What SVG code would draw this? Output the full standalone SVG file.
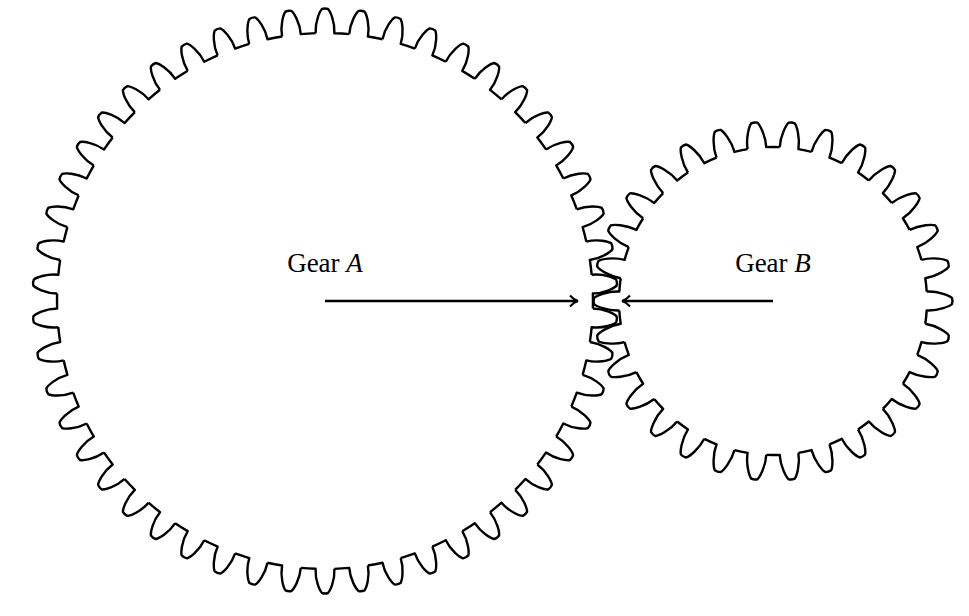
<svg xmlns="http://www.w3.org/2000/svg" width="969" height="616" viewBox="0 0 969 616">
<style>
.g{fill:none;stroke:#000;stroke-width:2.4;stroke-linejoin:round}
.c{stroke:#000;stroke-width:2.4;fill:none}
.t{font-family:"Liberation Serif",serif;font-size:27px;text-anchor:middle;fill:#000}
</style>
<defs>
<path id="ta" d="M -9.4,-267.8 C -10,-280 -5,-290 -3,-292 Q 0,-293 3,-292 C 5,-290 10,-280 9.4,-267.8 A 268 268 0 0 1 24.3,-266.9"/>
<path id="tb" d="M -9.4,-153.7 C -10,-166 -5,-177 -3,-179 Q 0,-180 3,-179 C 5,-177 10,-166 9.4,-153.7 A 154 154 0 0 1 22.76,-152.3"/>
<marker id="ar" markerWidth="14" markerHeight="14" refX="10" refY="7" orient="auto" markerUnits="userSpaceOnUse">
<path d="M 2,1.5 Q 6,6 10,7 Q 6,8 2,12.5" fill="none" stroke="#000" stroke-width="2"/>
</marker>
</defs>
<g id="gearA" class="g" transform="translate(325,301)">
<use href="#ta" transform="rotate(0)"/><use href="#ta" transform="rotate(7.2)"/><use href="#ta" transform="rotate(14.4)"/><use href="#ta" transform="rotate(21.6)"/><use href="#ta" transform="rotate(28.8)"/><use href="#ta" transform="rotate(36)"/><use href="#ta" transform="rotate(43.2)"/><use href="#ta" transform="rotate(50.4)"/><use href="#ta" transform="rotate(57.6)"/><use href="#ta" transform="rotate(64.8)"/><use href="#ta" transform="rotate(72)"/><use href="#ta" transform="rotate(79.2)"/><use href="#ta" transform="rotate(86.4)"/><use href="#ta" transform="rotate(93.6)"/><use href="#ta" transform="rotate(100.8)"/><use href="#ta" transform="rotate(108)"/><use href="#ta" transform="rotate(115.2)"/><use href="#ta" transform="rotate(122.4)"/><use href="#ta" transform="rotate(129.6)"/><use href="#ta" transform="rotate(136.8)"/><use href="#ta" transform="rotate(144)"/><use href="#ta" transform="rotate(151.2)"/><use href="#ta" transform="rotate(158.4)"/><use href="#ta" transform="rotate(165.6)"/><use href="#ta" transform="rotate(172.8)"/><use href="#ta" transform="rotate(180)"/><use href="#ta" transform="rotate(187.2)"/><use href="#ta" transform="rotate(194.4)"/><use href="#ta" transform="rotate(201.6)"/><use href="#ta" transform="rotate(208.8)"/><use href="#ta" transform="rotate(216)"/><use href="#ta" transform="rotate(223.2)"/><use href="#ta" transform="rotate(230.4)"/><use href="#ta" transform="rotate(237.6)"/><use href="#ta" transform="rotate(244.8)"/><use href="#ta" transform="rotate(252)"/><use href="#ta" transform="rotate(259.2)"/><use href="#ta" transform="rotate(266.4)"/><use href="#ta" transform="rotate(273.6)"/><use href="#ta" transform="rotate(280.8)"/><use href="#ta" transform="rotate(288)"/><use href="#ta" transform="rotate(295.2)"/><use href="#ta" transform="rotate(302.4)"/><use href="#ta" transform="rotate(309.6)"/><use href="#ta" transform="rotate(316.8)"/><use href="#ta" transform="rotate(324)"/><use href="#ta" transform="rotate(331.2)"/><use href="#ta" transform="rotate(338.4)"/><use href="#ta" transform="rotate(345.6)"/><use href="#ta" transform="rotate(352.8)"/>
</g>
<g id="gearB" class="g" transform="translate(773,301) rotate(6)">
<use href="#tb" transform="rotate(0)"/><use href="#tb" transform="rotate(12)"/><use href="#tb" transform="rotate(24)"/><use href="#tb" transform="rotate(36)"/><use href="#tb" transform="rotate(48)"/><use href="#tb" transform="rotate(60)"/><use href="#tb" transform="rotate(72)"/><use href="#tb" transform="rotate(84)"/><use href="#tb" transform="rotate(96)"/><use href="#tb" transform="rotate(108)"/><use href="#tb" transform="rotate(120)"/><use href="#tb" transform="rotate(132)"/><use href="#tb" transform="rotate(144)"/><use href="#tb" transform="rotate(156)"/><use href="#tb" transform="rotate(168)"/><use href="#tb" transform="rotate(180)"/><use href="#tb" transform="rotate(192)"/><use href="#tb" transform="rotate(204)"/><use href="#tb" transform="rotate(216)"/><use href="#tb" transform="rotate(228)"/><use href="#tb" transform="rotate(240)"/><use href="#tb" transform="rotate(252)"/><use href="#tb" transform="rotate(264)"/><use href="#tb" transform="rotate(276)"/><use href="#tb" transform="rotate(288)"/><use href="#tb" transform="rotate(300)"/><use href="#tb" transform="rotate(312)"/><use href="#tb" transform="rotate(324)"/><use href="#tb" transform="rotate(336)"/><use href="#tb" transform="rotate(348)"/>
</g>
<g id="connectors">
<line class="c" x1="325" y1="301" x2="578" y2="301" marker-end="url(#ar)"/>
<line class="c" x1="773" y1="301" x2="622" y2="301" marker-end="url(#ar)"/>
</g>
<g id="labels">
<text class="t" x="325" y="272">Gear <tspan font-style="italic">A</tspan></text>
<text class="t" x="773" y="272">Gear <tspan font-style="italic">B</tspan></text>
</g>
</svg>
